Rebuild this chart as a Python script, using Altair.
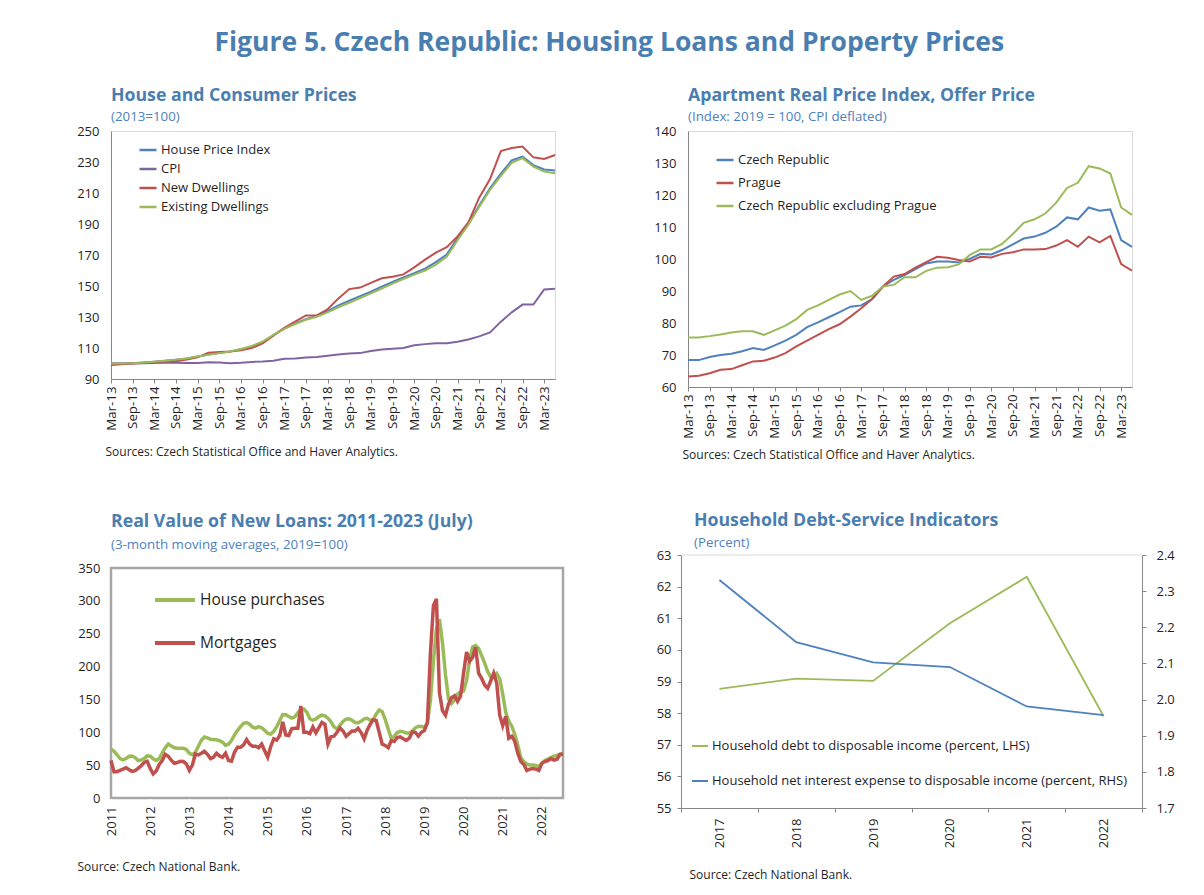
import json
import altair as alt
import pandas as pd

FONT = "Open Sans"
TITLE_BLUE = "#4A7EB0"
SUB_BLUE = "#4F81BD"
AXIS_GRAY = "#868686"
FRAME_GRAY = "#D9D9D9"
BOX_GRAY = "#A6A6A6"
TEXT = "#1F1F1F"

# ---------------- Panel 1: House and Consumer Prices (quarterly, Mar-13 .. Jun-23)
q_labels = ["Mar-13", "Sep-13", "Mar-14", "Sep-14", "Mar-15", "Sep-15", "Mar-16", "Sep-16",
            "Mar-17", "Sep-17", "Mar-18", "Sep-18", "Mar-19", "Sep-19", "Mar-20", "Sep-20",
            "Mar-21", "Sep-21", "Mar-22", "Sep-22", "Mar-23"]
p1_series = ["House Price Index", "CPI", "New Dwellings", "Existing Dwellings"]
p1_colors = ["#4F81BD", "#8064A2", "#C0504D", "#9BBB59"]
hpi = [100, 100, 100.2, 100.6, 101.2, 101.8, 102.5, 103.3, 104.5, 105.8,
       106.8, 107.8, 109.2, 111.0, 113.8, 118.3, 122.5, 125.8, 128.6, 130.7,
       133.8, 137.5, 140.5, 143.5, 146.4, 149.6, 152.6, 155.6, 158.3, 161.2,
       165.4, 170.3, 181.0, 190.5, 202.0, 213.0, 222.5, 231.0, 233.5, 228.0,
       225.2, 224.5]
cpi = [100, 100, 100, 100.2, 100.4, 100.5, 100.5, 100.3, 100.3, 100.8,
       100.6, 100.2, 100.5, 101.0, 101.3, 101.8, 103.0, 103.2, 103.8, 104.2,
       105.0, 105.8, 106.5, 106.7, 108.0, 109.0, 109.5, 110.0, 111.8, 112.5,
       113.0, 113.0, 114.0, 115.5, 117.5, 120.0, 127.0, 133.0, 138.0, 138.0,
       147.8, 148.3]
new_dw = [99.0, 99.5, 100, 100.5, 101, 101.3, 101.5, 102.5, 104, 107,
          107.5, 107.8, 108.5, 110, 113, 118, 123, 127, 131, 131,
          135, 142, 148, 149, 152, 155, 156, 157.5, 162, 167,
          171.5, 175, 182, 191, 207, 219, 237, 239, 240, 233,
          232, 234.5]
exist_dw = [100, 100, 100.2, 100.6, 101.2, 101.8, 102.5, 103.3, 104.5, 105.7,
            106.7, 107.7, 109.3, 111.3, 114.2, 118.5, 122.3, 125.5, 128.2, 130.2,
            133, 136.3, 139.2, 142.2, 145.2, 148.4, 151.5, 154.5, 157.3, 160,
            163.8, 168.8, 179.5, 189.5, 201, 212, 221, 229.5, 232.5, 227,
            223.8, 222.8]

# ---------------- Panel 2: Apartment Real Price Index, Offer Price
p2_series = ["Czech Republic", "Prague", "Czech Republic excluding Prague"]
p2_colors = ["#4F81BD", "#C0504D", "#9BBB59"]
cz = [68.4, 68.4, 69.4, 70.0, 70.4, 71.2, 72.2, 71.6, 73.0, 74.5,
      76.3, 78.7, 80.2, 81.8, 83.4, 85.1, 85.5, 87.5, 91.4, 93.5,
      95.0, 96.8, 98.6, 99.2, 99.2, 98.9, 100.0, 101.6, 101.4, 102.8,
      104.6, 106.4, 107.0, 108.2, 110.1, 113.0, 112.4, 116.1, 115.1, 115.5,
      105.9, 103.8]
prague = [63.3, 63.5, 64.3, 65.4, 65.6, 66.8, 68.0, 68.2, 69.2, 70.6,
          72.7, 74.5, 76.3, 78.1, 79.6, 82.0, 84.6, 87.5, 91.4, 94.5,
          95.3, 97.3, 99.0, 100.7, 100.4, 99.7, 99.2, 100.7, 100.5, 101.6,
          102.1, 103.0, 103.0, 103.1, 104.2, 105.9, 103.8, 107.0, 105.2, 107.2,
          98.4, 96.4]
cz_ex = [75.5, 75.5, 75.9, 76.4, 77.0, 77.4, 77.4, 76.3, 77.7, 79.2,
         81.2, 84.1, 85.5, 87.2, 88.9, 90.0, 87.2, 88.5, 91.4, 91.9,
         94.3, 94.3, 96.3, 97.3, 97.4, 98.3, 101.2, 103.0, 103.0, 104.7,
         107.8, 111.3, 112.4, 114.2, 117.6, 122.2, 123.8, 129.0, 128.3, 126.7,
         116.1, 113.8]

# ---------------- Panel 3: Real Value of New Loans (monthly Jan-2011 .. Jul-2023)
year_labels = ["2011", "2012", "2013", "2014", "2015", "2016", "2017", "2018",
               "2019", "2020", "2021", "2022"]
year_label_pos = [0, 13, 26, 39, 52, 65, 78, 91, 104, 117, 130, 143]  # every 13th month
p3_series = ["House purchases", "Mortgages"]
p3_colors = ["#9BBB59", "#C0504D"]
house_purch = [74, 71.3, 65.8, 60, 58, 60, 63.5, 64, 61.5, 57,
               58, 60, 64, 63.5, 59.5, 57, 60, 68.5, 76.3, 82,
               79, 76.3, 75.7, 75.7, 75.7, 74, 68, 65.8, 69.6, 78.8,
               88, 92.8, 91.6, 89.5, 89, 88.5, 87.2, 84.8, 80.3, 81.8,
               87.7, 96, 103, 108.7, 113.5, 114.8, 112.3, 107.7, 106.3, 108.6,
               107, 103, 98.4, 97.2, 101.5, 108.7, 117.8, 127, 126.8, 124,
               121.6, 123.5, 129.7, 135.2, 135.4, 130.5, 120.5, 118.1, 120.3, 123.9,
               126, 125, 121.4, 116, 108.3, 105.2, 110.6, 116.5, 119.9, 120.4,
               118.3, 115, 114.7, 116.7, 120.4, 121.3, 118.5, 118.9, 127.6, 133.8,
               131.3, 119.4, 104.9, 91, 93.7, 99.6, 101.4, 100.6, 98.8, 98.5,
               101.9, 106.8, 109.2, 108.7, 107.8, 113.8, 148.6, 209, 257.3, 272,
               236, 187.5, 151, 143.8, 149.4, 158, 161.6, 162.8, 179, 210,
               229.8, 232, 227.5, 216.6, 205.4, 192.5, 184, 185, 189.3, 181.3,
               158, 130.5, 116.8, 109.2, 97, 80.2, 61.5, 55.4, 51.5, 50.3,
               50.3, 49.4, 47.2, 52.8, 57.2, 59.4, 61.6, 63.8, 64.9, 66.6, 68]
mortgages = [57, 40, 40, 42, 44, 46, 43, 40.5, 41.5, 45,
             49, 54, 56, 45, 36.6, 41, 51, 57, 66.5, 63.5,
             57.5, 52.8, 54, 56, 55.5, 52, 42, 50, 67, 65.5,
             68, 71, 66.5, 60, 62, 68, 64, 62, 68, 57,
             56, 70, 77.2, 77.2, 81, 89, 82, 78.7, 78.7, 76.5,
             82, 72, 62, 78, 90, 88, 95, 116, 96, 95,
             105.5, 106.2, 106.2, 140, 100, 100, 98, 108, 99, 107,
             115, 112, 82, 93, 94, 100, 106.5, 102, 94, 98,
             102, 102, 106, 99.5, 90, 103, 112, 119, 118, 100,
             82, 80, 76.5, 87.4, 86, 92, 93, 90, 87.5, 91,
             100.5, 100, 94, 100, 102.5, 115, 220, 293, 303, 160,
             133, 126, 143, 152.5, 155.5, 147, 155, 190, 222, 208,
             214, 229.6, 190, 182, 172, 167, 178, 190, 175, 126,
             110, 124.5, 91, 94, 86, 68, 55.5, 51, 42, 44,
             45, 44, 42, 53, 55.5, 57, 60, 57.5, 59, 66, 67]

# ---------------- Panel 4: Household Debt-Service Indicators
p4_years = ["2017", "2018", "2019", "2020", "2021", "2022"]
p4_series = ["Household debt to disposable income (percent, LHS)",
             "Household net interest expense to disposable income (percent, RHS)"]
p4_colors = ["#9BBB59", "#4F81BD"]
debt_ratio = [58.77, 59.09, 59.02, 60.84, 62.31, 57.9]
interest_ratio = [2.331, 2.159, 2.103, 2.09, 1.981, 1.957]
p4_left_ticks = [55, 56, 57, 58, 59, 60, 61, 62, 63]
p4_right_ticks = [1.7, 1.8, 1.9, 2.0, 2.1, 2.2, 2.3, 2.4]


def long_df(names, arrays, xs=None):
    rows = []
    for name, vals in zip(names, arrays):
        for i, v in enumerate(vals):
            rows.append({"i": i if xs is None else xs[i], "value": v, "series": name})
    return pd.DataFrame(rows)


def panel_title(text, sub, dx=0, offset=2, subpad=5):
    return alt.TitleParams(
        text=text, subtitle=sub, anchor="start", frame="group", dx=dx, offset=offset,
        font=FONT, fontSize=17.7, fontWeight="bold", color=TITLE_BLUE,
        subtitleFont=FONT, subtitleFontSize=13.3, subtitleColor=SUB_BLUE,
        subtitlePadding=subpad)


def source_axis_kwargs(text, tx, ty, size=12):
    return dict(title=text, titleAnchor="start", titleAlign="left", titleBaseline="middle",
                titleX=tx, titleY=ty, titleFont=FONT, titleFontSize=size,
                titleFontWeight="normal", titleColor=TEXT)


def legend(x, y, size, sw, fs, rowpad):
    return alt.Legend(orient="none", legendX=x, legendY=y, title=None, symbolType="stroke",
                      symbolSize=size, symbolStrokeWidth=sw, labelFont=FONT, labelFontSize=fs,
                      labelColor=TEXT, padding=0, rowPadding=rowpad, labelOffset=3,
                      labelLimit=600)


def quarter_chart(df, names, colors, ydom, ystep, w, h, ttl, sub, src, src_y, leg):
    yvals = list(range(ydom[0], ydom[1] + 1, ystep))
    lab_expr = json.dumps(q_labels) + "[datum.value / 2]"
    return alt.Chart(df).mark_line(strokeWidth=2).encode(
        x=alt.X("i:Q", scale=alt.Scale(domain=[0, 41], nice=False, zero=False),
                axis=alt.Axis(values=list(range(0, 41, 2)), labelExpr=lab_expr, labelAngle=270,
                              labelAlign="right", labelBaseline="middle",
                              labelFontSize=13.3, tickSize=4, labelPadding=3,
                              **source_axis_kwargs(src, -6, src_y))),
        y=alt.Y("value:Q", scale=alt.Scale(domain=ydom, nice=False, zero=False),
                axis=alt.Axis(values=yvals, title=None, ticks=False, labelPadding=12,
                              labelFontSize=13)),
        color=alt.Color("series:N", scale=alt.Scale(domain=names, range=colors),
                        sort=names, legend=leg),
    ).properties(width=w, height=h, title=panel_title(ttl, sub),
                 view=alt.ViewBackground(stroke=FRAME_GRAY, strokeWidth=1))


p1 = quarter_chart(long_df(p1_series, [hpi, cpi, new_dw, exist_dw]), p1_series, p1_colors,
                   [90, 250], 20, 444, 248, "House and Consumer Prices", "(2013=100)",
                   "Sources: Czech Statistical Office and Haver Analytics.", 72,
                   legend(27, 9, 289, 2.5, 13, 2))
p2 = quarter_chart(long_df(p2_series, [cz, prague, cz_ex]), p2_series, p2_colors,
                   [60, 140], 10, 444, 256, "Apartment Real Price Index, Offer Price",
                   "(Index: 2019 = 100, CPI deflated)",
                   "Sources: Czech Statistical Office and Haver Analytics.", 67,
                   legend(27, 19, 289, 2.5, 13, 6))

# Panel 3 (monthly points; a year label every 13th month, as in the source chart)
p3_df = long_df(p3_series, [house_purch, mortgages])
p3_lab = json.dumps(year_labels) + "[datum.value / 13]"
p3 = alt.Chart(p3_df).mark_line(strokeWidth=3.5).encode(
    x=alt.X("i:Q", scale=alt.Scale(domain=[0, 150], nice=False, zero=False),
            axis=alt.Axis(values=year_label_pos, labelExpr=p3_lab, labelAngle=270,
                          labelAlign="right", labelBaseline="middle",
                          labelFontSize=13, tickSize=4, labelPadding=4,
                          tickColor="white", domainColor=BOX_GRAY,
                          **source_axis_kwargs("Source: Czech National Bank.", -34, 68))),
    y=alt.Y("value:Q", scale=alt.Scale(domain=[0, 350], nice=False, zero=True),
            axis=alt.Axis(values=list(range(0, 351, 50)), title=None, ticks=False,
                          domainColor=BOX_GRAY, labelPadding=11, labelFontSize=13)),
    color=alt.Color("series:N", scale=alt.Scale(domain=p3_series, range=p3_colors),
                    sort=p3_series, legend=legend(42, 10, 1600, 4, 15.5, 12)),
).properties(width=452, height=230,
             title=panel_title("Real Value of New Loans: 2011-2023 (July)",
                               "(3-month moving averages, 2019=100)", offset=11, subpad=7),
             view=alt.ViewBackground(stroke=BOX_GRAY, strokeWidth=2.5))

# Panel 4 (plot area aligned with panel 3; the scales reach 13px above it)
P4_H = 240
p4_df = long_df(p4_series, [debt_ratio, interest_ratio], xs=p4_years)
p4_color = alt.Color("series:N", scale=alt.Scale(domain=p4_series, range=p4_colors),
                     sort=p4_series, legend=legend(10, 169, 256, 2, 13, 19))
p4_x = alt.X("i:O", sort=p4_years, bandPosition=0.5,
             scale=alt.Scale(type="band", paddingInner=0, paddingOuter=0),
             axis=alt.Axis(labelAngle=270, labelAlign="right", labelBaseline="middle",
                           tickBand="extent", tickSize=4, labelPadding=6,
                           labelFontSize=13,
                           **source_axis_kwargs("Source: Czech National Bank.", 8, 66)))
left_scale = alt.Scale(domain=[55, 63], range=[P4_H, -13], nice=False, zero=False)
left_axis = alt.Axis(values=p4_left_ticks, title=None, tickSize=4, labelPadding=6,
                     labelFontSize=13)
p4_left = alt.Chart(p4_df).transform_filter(
    alt.datum.series == p4_series[0]).mark_line(strokeWidth=1.8).encode(
    x=p4_x, y=alt.Y("value:Q", scale=left_scale, axis=left_axis), color=p4_color)
p4_top = alt.Chart(pd.DataFrame({"value": [p4_left_ticks[-1]]})).mark_rule(
    color=FRAME_GRAY, strokeWidth=1).encode(
    y=alt.Y("value:Q", scale=left_scale, axis=left_axis))
p4_right = alt.Chart(p4_df).transform_filter(
    alt.datum.series == p4_series[1]).mark_line(strokeWidth=1.8).encode(
    x=p4_x,
    y=alt.Y("value:Q", scale=alt.Scale(domain=[1.7, 2.4], range=[P4_H, -13], nice=False,
                                       zero=False),
            axis=alt.Axis(values=p4_right_ticks, format=".1f",
                          orient="right", title=None, tickSize=4, labelPadding=10,
                          labelFontSize=13)),
    color=p4_color)
p4 = alt.layer(alt.layer(p4_top, p4_left), p4_right).resolve_scale(y="independent").properties(
    width=461, height=P4_H,
    title=panel_title("Household Debt-Service Indicators", "(Percent)", dx=13, offset=0, subpad=6),
    view=alt.ViewBackground(stroke="transparent"))

row1 = alt.hconcat(p1, p2, spacing=93).resolve_scale(color="independent")
row2 = alt.hconcat(p3, p4, spacing=83).resolve_scale(color="independent")

chart = alt.vconcat(
    row1, row2, spacing=50,
    title=alt.TitleParams("Figure 5. Czech Republic: Housing Loans and Property Prices",
                          anchor="middle", font=FONT, fontSize=26.5, fontWeight="bold",
                          color=TITLE_BLUE, offset=30, dx=-16),
    padding={"left": 67, "top": 22, "right": 5, "bottom": 5},
).resolve_scale(color="independent").configure(background="white").configure_axis(
    labelFont=FONT, labelColor=TEXT, domainColor=AXIS_GRAY, tickColor=AXIS_GRAY, grid=False
).configure_view(stroke=FRAME_GRAY)

chart.save("out.html", embed_options={"renderer": "svg", "actions": False})
